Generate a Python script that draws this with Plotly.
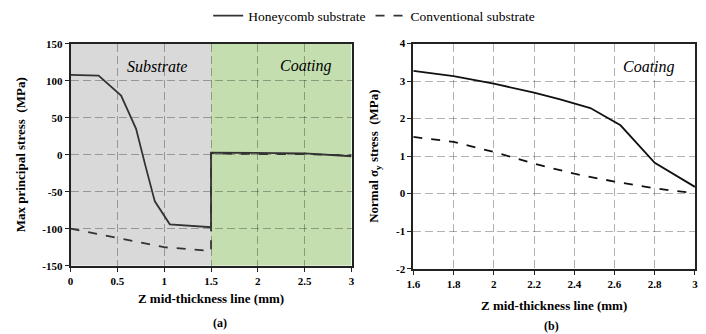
import plotly.graph_objects as go

# ---- data: panel (a) ----
a_honey_x = [0, 0.3, 0.54, 0.7, 0.8, 0.9, 1.06, 1.5, 1.5, 2.0, 2.5, 3.0]
a_honey_y = [108, 107, 80, 35, -15, -63, -94, -98, 3, 2, 2, -2]
a_conv_x = [0, 0.5, 1.0, 1.5, 1.5, 2.0, 2.5, 3.0]
a_conv_y = [-100, -113, -125, -130, 2, 1, 1, -1]

# ---- data: panel (b) ----
b_honey_x = [1.6, 1.8, 2.0, 2.2, 2.33, 2.48, 2.63, 2.8, 3.0]
b_honey_y = [3.27, 3.13, 2.93, 2.69, 2.51, 2.28, 1.82, 0.82, 0.18]
b_conv_x = [1.6, 1.8, 2.0, 2.2, 2.4, 2.6, 2.8, 3.0]
b_conv_y = [1.51, 1.38, 1.11, 0.8, 0.53, 0.32, 0.14, 0.01]

a_xticks = [0, 0.5, 1, 1.5, 2, 2.5, 3]
a_xlabels = ["0", "0.5", "1", "1.5", "2", "2.5", "3"]
a_yticks = [-150, -100, -50, 0, 50, 100, 150]
a_ylabels = ["-150", "-100", "-50", "0", "50", "100", "150"]
b_xticks = [1.6, 1.8, 2.0, 2.2, 2.4, 2.6, 2.8, 3.0]
b_xlabels = ["1.6", "1.8", "2", "2.2", "2.4", "2.6", "2.8", "3"]
b_yticks = [-2, -1, 0, 1, 2, 3, 4]
b_ylabels = ["-2", "-1", "0", "1", "2", "3", "4"]

SERIF = "Times New Roman"
LINE = "#333333"

fig = go.Figure()
fig.add_trace(go.Scatter(x=a_honey_x, y=a_honey_y, mode="lines", name="Honeycomb substrate",
                         line=dict(color=LINE, width=1.8), xaxis="x", yaxis="y"))
fig.add_trace(go.Scatter(x=a_conv_x, y=a_conv_y, mode="lines", name="Conventional substrate",
                         line=dict(color=LINE, width=1.8, dash="dash"), xaxis="x", yaxis="y"))
fig.add_trace(go.Scatter(x=b_honey_x, y=b_honey_y, mode="lines", showlegend=False,
                         line=dict(color="#111111", width=1.8), xaxis="x2", yaxis="y2"))
fig.add_trace(go.Scatter(x=b_conv_x, y=b_conv_y, mode="lines", showlegend=False,
                         line=dict(color="#111111", width=1.8, dash="dash"), xaxis="x2", yaxis="y2"))

# shaded regions in panel (a)
fig.add_shape(type="rect", xref="x", yref="y", x0=0, x1=1.5, y0=-150, y1=150,
              fillcolor="#d9d9d9", line_width=0, layer="below")
fig.add_shape(type="rect", xref="x", yref="y", x0=1.5, x1=3, y0=-150, y1=150,
              fillcolor="#c4deb0", line_width=0, layer="below")

tickfont = dict(family=SERIF, size=11, color="black", weight="bold")
titlefont = dict(family=SERIF, size=13, color="black")
grid = dict(showgrid=True, gridcolor="rgba(0,0,0,0.3)", griddash="8px,4px", gridwidth=1)
axline = dict(showline=True, linecolor="#222222", linewidth=1.8, mirror=True,
              ticks="outside", ticklen=4, tickcolor="#222222", zeroline=False,
              automargin=False)

fig.update_layout(
    width=706, height=334, autosize=False,
    margin=dict(l=0, r=0, t=0, b=0, pad=0),
    paper_bgcolor="white", plot_bgcolor="white",
    font=dict(family=SERIF, color="black"),
    showlegend=True,
    legend=dict(orientation="h", x=0.53, xanchor="center", y=1.005, yanchor="top",
                font=dict(family=SERIF, size=13.5, color="black"),
                bgcolor="rgba(0,0,0,0)"),
    xaxis=dict(domain=[0.0999, 0.4979], range=[0, 3.0001], tickvals=a_xticks, ticktext=a_xlabels,
               tickfont=tickfont, anchor="y",
               title=dict(text="<b>Z mid-thickness line (mm)</b>", font=titlefont, standoff=8),
               **grid, **axline),
    yaxis=dict(domain=[0.2057, 0.874], range=[-150, 150], tickvals=a_yticks, ticktext=a_ylabels,
               tickfont=tickfont, anchor="x",
               title=dict(text="<b>Max principal stress  (MPa)</b>", font=titlefont, standoff=14),
               **grid, **axline),
    xaxis2=dict(domain=[0.5854, 0.9844], range=[1.6, 3.0001], tickvals=b_xticks, ticktext=b_xlabels,
                tickfont=tickfont, anchor="y2",
                title=dict(text="<b>Z mid-thickness line (mm)</b>", font=titlefont, standoff=12),
                **grid, **axline),
    yaxis2=dict(domain=[0.1967, 0.875], range=[-2, 4], tickvals=b_yticks, ticktext=b_ylabels,
                tickfont=tickfont, anchor="x2",
                title=dict(text="<b>Normal σ<sub>y</sub> stress  (MPa)</b>", font=titlefont,
                           standoff=14),
                **grid, **axline),
)

fig.add_annotation(xref="x", yref="y", x=0.92, y=120, text="<i>Substrate</i>", showarrow=False,
                   font=dict(family=SERIF, size=16, color="black"))
fig.add_annotation(xref="x", yref="y", x=2.51, y=120, text="<i>Coating</i>", showarrow=False,
                   font=dict(family=SERIF, size=16, color="black"))
fig.add_annotation(xref="x2", yref="y2", x=2.77, y=3.38, text="<i>Coating</i>", showarrow=False,
                   font=dict(family=SERIF, size=16, color="black"))
fig.add_annotation(xref="paper", yref="paper", x=0.299, y=1 - 323 / 334, yanchor="middle",
                   text="<b>(a)</b>", showarrow=False, font=dict(family=SERIF, size=12, color="black"))
fig.add_annotation(xref="paper", yref="paper", x=0.794, y=1 - 326 / 334, yanchor="middle",
                   text="<b>(b)</b>", showarrow=False, font=dict(family=SERIF, size=12, color="black"))

fig.write_html("out.html", config={"displayModeBar": False},
               post_script="document.body.style.margin='0';document.body.style.overflow='hidden';")
